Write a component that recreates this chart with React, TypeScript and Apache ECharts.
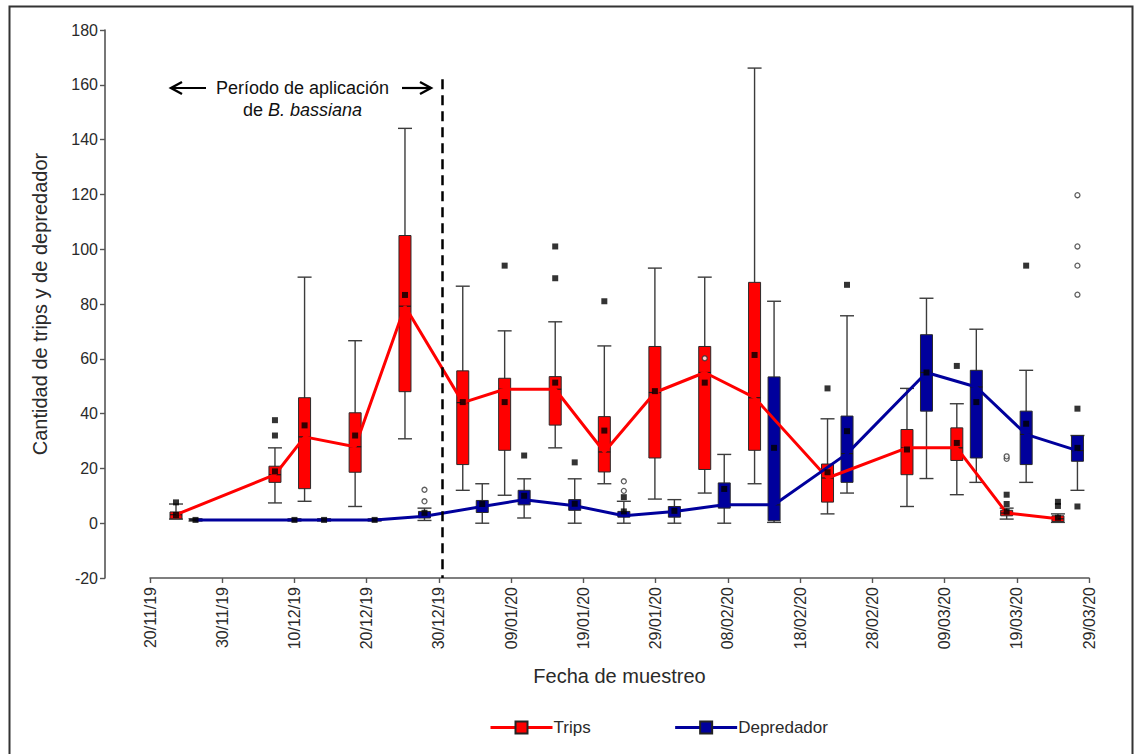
import React, { useEffect, useRef } from "react";
import * as echarts from "echarts";

// ---- axes ----
const axisStartDate = "2019-11-20"; // day 0 of the x axis
const xMaxDays = 130;
const xStepDays = 10;
const yMin = -20;
const yMax = 180;
const yStep = 20;

// ---- sampling positions (days after 20/11/19) ----
const sampleDay = [3.6, 17.3, 21.4, 28.4, 35.3, 43.3, 49.1, 56.1, 62.9, 69.9, 76.8, 83.7, 93.8, 104.8, 111.7, 118.6, 125.7];
const predatorShift = 2.7; // predator boxes drawn just right of the trips box
const applicationEndDay = 40.4;

// ---- Trips: [min, Q1, median, Q3, max] ----
const tripsBox = [
  [1.5, 1.6, 3.1, 4.1, 7.0],
  [7.4, 14.9, 17.7, 20.8, 27.5],
  [8.0, 12.6, 31.5, 45.8, 89.8],
  [6.1, 18.6, 27.9, 40.3, 66.6],
  [30.8, 48.0, 79.2, 105.0, 144.1],
  [12.0, 21.4, 44.0, 55.6, 86.5],
  [10.2, 26.6, 48.9, 52.9, 70.2],
  [27.5, 35.8, 48.9, 53.5, 73.5],
  [14.4, 18.7, 26.0, 38.9, 64.7],
  [8.8, 23.8, 47.7, 64.5, 93.1],
  [11.0, 19.6, 55.0, 64.5, 89.8],
  [14.4, 26.6, 45.8, 87.9, 166.1],
  [3.4, 7.7, 16.5, 21.6, 38.1],
  [6.1, 17.7, 27.5, 34.2, 49.2],
  [10.4, 22.9, 27.5, 34.8, 43.6],
  [1.5, 2.7, 3.7, 4.7, 5.5],
  [0.3, 0.6, 1.6, 2.7, 3.4],
];
const tripsMean = [3.0, 18.9, 35.7, 32.0, 83.3, 44.2, 44.2, 51.3, 33.8, 48.2, 51.3, 61.4, 18.6, 26.9, 29.3, 4.2, 2.0];
// [sample index, value]
const tripsOutFilled = [[0, 7.6], [1, 32.0], [1, 37.6], [6, 94.0], [7, 89.4], [7, 101.0], [8, 81.0], [12, 49.2], [14, 57.4], [15, 7.0], [15, 10.4], [16, 6.3], [16, 7.8]];
const tripsOutOpen = [[10, 60.2], [15, 23.5], [15, 24.4]];

// ---- Depredador: [min, Q1, median, Q3, max] ----
const predBox = [
  [0.8, 1.0, 1.2, 1.5, 1.6],
  [0.8, 1.0, 1.2, 1.5, 1.6],
  [0.8, 1.0, 1.2, 1.5, 1.6],
  [0.8, 1.0, 1.2, 1.5, 1.6],
  [1.0, 1.9, 2.5, 4.3, 5.5],
  [0.0, 3.9, 6.1, 8.3, 14.4],
  [1.9, 6.7, 8.6, 12.0, 16.2],
  [0.0, 4.7, 6.4, 8.6, 16.2],
  [0.0, 2.2, 2.7, 4.3, 8.0],
  [0.0, 2.2, 4.3, 6.1, 8.6],
  [0.0, 5.5, 6.7, 14.7, 25.1],
  [0.3, 0.9, 6.7, 53.4, 81.0],
  [11.0, 14.9, 25.4, 39.1, 75.7],
  [16.3, 40.9, 55.0, 68.8, 82.1],
  [14.9, 23.8, 49.7, 55.8, 70.8],
  [14.9, 21.4, 32.4, 40.9, 55.8],
  [12.0, 22.6, 26.5, 32.0, 32.0],
];
const predMean = [1.2, 1.2, 1.2, 1.2, 3.8, 7.0, 10.0, 7.1, 4.3, 4.5, 12.5, 27.5, 33.6, 55.0, 44.2, 36.3, 27.5];
const predOutFilled = [[6, 24.7], [7, 22.2], [8, 9.5], [12, 87.0], [15, 94.0], [16, 41.8], [16, 6.1]];
const predOutOpen = [[4, 8.0], [4, 12.2], [8, 11.8], [8, 15.3], [16, 83.4], [16, 94.0], [16, 101.0], [16, 119.7]];

// ---- texts ----
const xAxisTitle = "Fecha de muestreo";
const yAxisTitle = "Cantidad de trips y de depredador";
const annotationLine1 = "Período de aplicación";
const annotationLine2 = "de {i|B. bassiana}";

const FONT = '"Liberation Sans", Arial, Helvetica, sans-serif';
const RED = "#ff0000";
const NAVY = "#00009c";
const TEXT = "#2a2a2a";

function baseMs(): number {
  const [y, m, d] = axisStartDate.split("-").map(Number);
  return Date.UTC(y, m - 1, d);
}

function fmtDay(v: number): string {
  const d = new Date(baseMs() + Math.round(v) * 86400000);
  const dd = String(d.getUTCDate()).padStart(2, "0");
  const mm = String(d.getUTCMonth() + 1).padStart(2, "0");
  const yy = String(d.getUTCFullYear()).slice(2);
  return `${dd}/${mm}/${yy}`;
}

function boxRenderer(fill: string) {
  return (params: any, api: any) => {
    const x = api.value(0);
    const lo = api.coord([x, api.value(1)]);
    const q1 = api.coord([x, api.value(2)]);
    const md = api.coord([x, api.value(3)]);
    const q3 = api.coord([x, api.value(4)]);
    const hi = api.coord([x, api.value(5)]);
    const cx = lo[0];
    const bw = 12;
    const cw = 14;
    const wStyle = { stroke: "#3c3c3c", lineWidth: 1.4 };
    return {
      type: "group",
      children: [
        { type: "line", shape: { x1: cx, y1: hi[1], x2: cx, y2: lo[1] }, style: wStyle },
        { type: "line", shape: { x1: cx - cw / 2, y1: hi[1], x2: cx + cw / 2, y2: hi[1] }, style: wStyle },
        { type: "line", shape: { x1: cx - cw / 2, y1: lo[1], x2: cx + cw / 2, y2: lo[1] }, style: wStyle },
        {
          type: "rect",
          shape: { x: cx - bw / 2, y: q3[1], width: bw, height: Math.max(q1[1] - q3[1], 1) },
          style: { fill, stroke: "#2a2a2a", lineWidth: 1 },
        },
        { type: "line", shape: { x1: cx - bw / 2, y1: md[1], x2: cx + bw / 2, y2: md[1] }, style: { stroke: "#1a1a1a", lineWidth: 1.2 } },
      ],
    };
  };
}

export default function App() {
  const ref = useRef<HTMLDivElement>(null);

  useEffect(() => {
    if (!ref.current) return;
    const chart = echarts.init(ref.current, null, { renderer: "svg" });

    const predDay = sampleDay.map((d) => d + predatorShift);
    const tripsBoxData = tripsBox.map((b, i) => [sampleDay[i], ...b]);
    const predBoxData = predBox.map((b, i) => [predDay[i], ...b]);
    const tripsMedian = tripsBox.map((b, i) => [sampleDay[i], b[2]]);
    const predMedian = predBox.map((b, i) => [predDay[i], b[2]]);
    const tripsMeanData = tripsMean.map((v, i) => [sampleDay[i], v]);
    const predMeanData = predMean.map((v, i) => [predDay[i], v]);
    const filled = [
      ...tripsOutFilled.map(([i, v]) => [sampleDay[i], v]),
      ...predOutFilled.map(([i, v]) => [predDay[i], v]),
    ];
    const open = [
      ...tripsOutOpen.map(([i, v]) => [sampleDay[i], v]),
      ...predOutOpen.map(([i, v]) => [predDay[i], v]),
    ];

    chart.setOption({
      animation: false,
      backgroundColor: "#fff",
      grid: { left: 150, right: 46, top: 30, bottom: 176 },
      xAxis: {
        type: "value",
        min: 0,
        max: xMaxDays,
        interval: xStepDays,
        name: xAxisTitle,
        nameLocation: "middle",
        nameGap: 88,
        nameTextStyle: { fontFamily: FONT, fontSize: 20, color: TEXT },
        axisLine: { onZero: false, lineStyle: { color: "#555", width: 1.6 } },
        axisTick: { show: true, length: 5, lineStyle: { color: "#555", width: 1.4 } },
        axisLabel: {
          rotate: 90,
          margin: 9,
          fontFamily: FONT,
          fontSize: 16,
          color: TEXT,
          formatter: (v: number) => fmtDay(v),
          showMinLabel: true,
          showMaxLabel: true,
        },
        splitLine: { show: false },
      },
      yAxis: {
        type: "value",
        min: yMin,
        max: yMax,
        interval: yStep,
        offset: 45,
        name: yAxisTitle,
        nameLocation: "middle",
        nameRotate: 90,
        nameGap: 55,
        nameTextStyle: { fontFamily: FONT, fontSize: 20, color: TEXT },
        axisLine: { show: true, onZero: false, lineStyle: { color: "#555", width: 1.6 } },
        axisTick: { show: true, length: 5, lineStyle: { color: "#555", width: 1.4 } },
        axisLabel: { margin: 7, fontFamily: FONT, fontSize: 16, color: TEXT },
        splitLine: { show: false },
      },
      legend: {
        data: ["Trips", "Depredador"],
        left: 484,
        top: 714,
        itemWidth: 62,
        itemHeight: 15,
        itemGap: 83,
        lineStyle: { width: 3 },
        textStyle: { fontFamily: FONT, fontSize: 17, color: TEXT, padding: [0, 0, 0, -4] },
      },
      graphic: [
        {
          type: "rect",
          silent: true,
          shape: { x: 9.5, y: 6.5, width: 1123, height: 800 },
          style: { fill: "none", stroke: "#333", lineWidth: 2 },
        },
        {
          type: "text",
          x: 302.5,
          y: 88,
          style: { text: annotationLine1, fontFamily: FONT, fontSize: 18, fill: "#111", align: "center", verticalAlign: "middle" },
        },
        {
          type: "text",
          x: 302.5,
          y: 110,
          style: {
            text: annotationLine2,
            fontFamily: FONT,
            fontSize: 18,
            fill: "#111",
            align: "center",
            verticalAlign: "middle",
            rich: { i: { fontStyle: "italic", fontFamily: FONT, fontSize: 18, fill: "#111" } },
          },
        },
        { type: "line", shape: { x1: 171, y1: 88, x2: 206, y2: 88 }, style: { stroke: "#000", lineWidth: 2.2 } },
        { type: "polyline", shape: { points: [[182, 82], [171, 88], [182, 94]] }, style: { stroke: "#000", lineWidth: 2.4, fill: "none" } },
        { type: "line", shape: { x1: 402, y1: 88, x2: 431, y2: 88 }, style: { stroke: "#000", lineWidth: 2.2 } },
        { type: "polyline", shape: { points: [[420, 82], [431, 88], [420, 94]] }, style: { stroke: "#000", lineWidth: 2.4, fill: "none" } },
      ],
      series: [
        {
          name: "tripsBox",
          type: "custom",
          renderItem: boxRenderer(RED),
          data: tripsBoxData,
          encode: { x: 0, y: [1, 2, 3, 4, 5] },
          z: 2,
        },
        {
          name: "predBox",
          type: "custom",
          renderItem: boxRenderer(NAVY),
          data: predBoxData,
          encode: { x: 0, y: [1, 2, 3, 4, 5] },
          z: 2,
        },
        {
          name: "Trips",
          type: "line",
          data: tripsMedian,
          symbol: "rect",
          showSymbol: false,
          color: RED,
          lineStyle: { color: RED, width: 3 },
          itemStyle: { color: RED, borderColor: "#222", borderWidth: 1 },
          z: 3,
          markLine: {
            silent: true,
            symbol: "none",
            label: { show: false },
            lineStyle: { color: "#000", type: [10, 6], width: 2.5 },
            data: [[{ coord: [applicationEndDay, 162] }, { coord: [applicationEndDay, yMin] }]],
          },
        },
        {
          name: "Depredador",
          type: "line",
          data: predMedian,
          symbol: "rect",
          showSymbol: false,
          color: NAVY,
          lineStyle: { color: NAVY, width: 3 },
          itemStyle: { color: NAVY, borderColor: "#222", borderWidth: 1 },
          z: 3,
        },
        {
          name: "means",
          type: "scatter",
          data: [...tripsMeanData, ...predMeanData],
          symbol: "rect",
          symbolSize: 6,
          itemStyle: { color: "#000" },
          z: 5,
        },
        {
          name: "outliersFilled",
          type: "scatter",
          data: filled,
          symbol: "rect",
          symbolSize: 6,
          itemStyle: { color: "#000" },
          z: 5,
        },
        {
          name: "outliersOpen",
          type: "scatter",
          data: open,
          symbol: "circle",
          symbolSize: 5,
          itemStyle: { color: "#fff", borderColor: "#333", borderWidth: 1.3 },
          z: 5,
        },
      ],
    });

    return () => chart.dispose();
  }, []);

  return (
    <div
      ref={ref}
      style={{ position: "fixed", left: 0, top: 0, width: 1135, height: 754, background: "#fff" }}
    />
  );
}
